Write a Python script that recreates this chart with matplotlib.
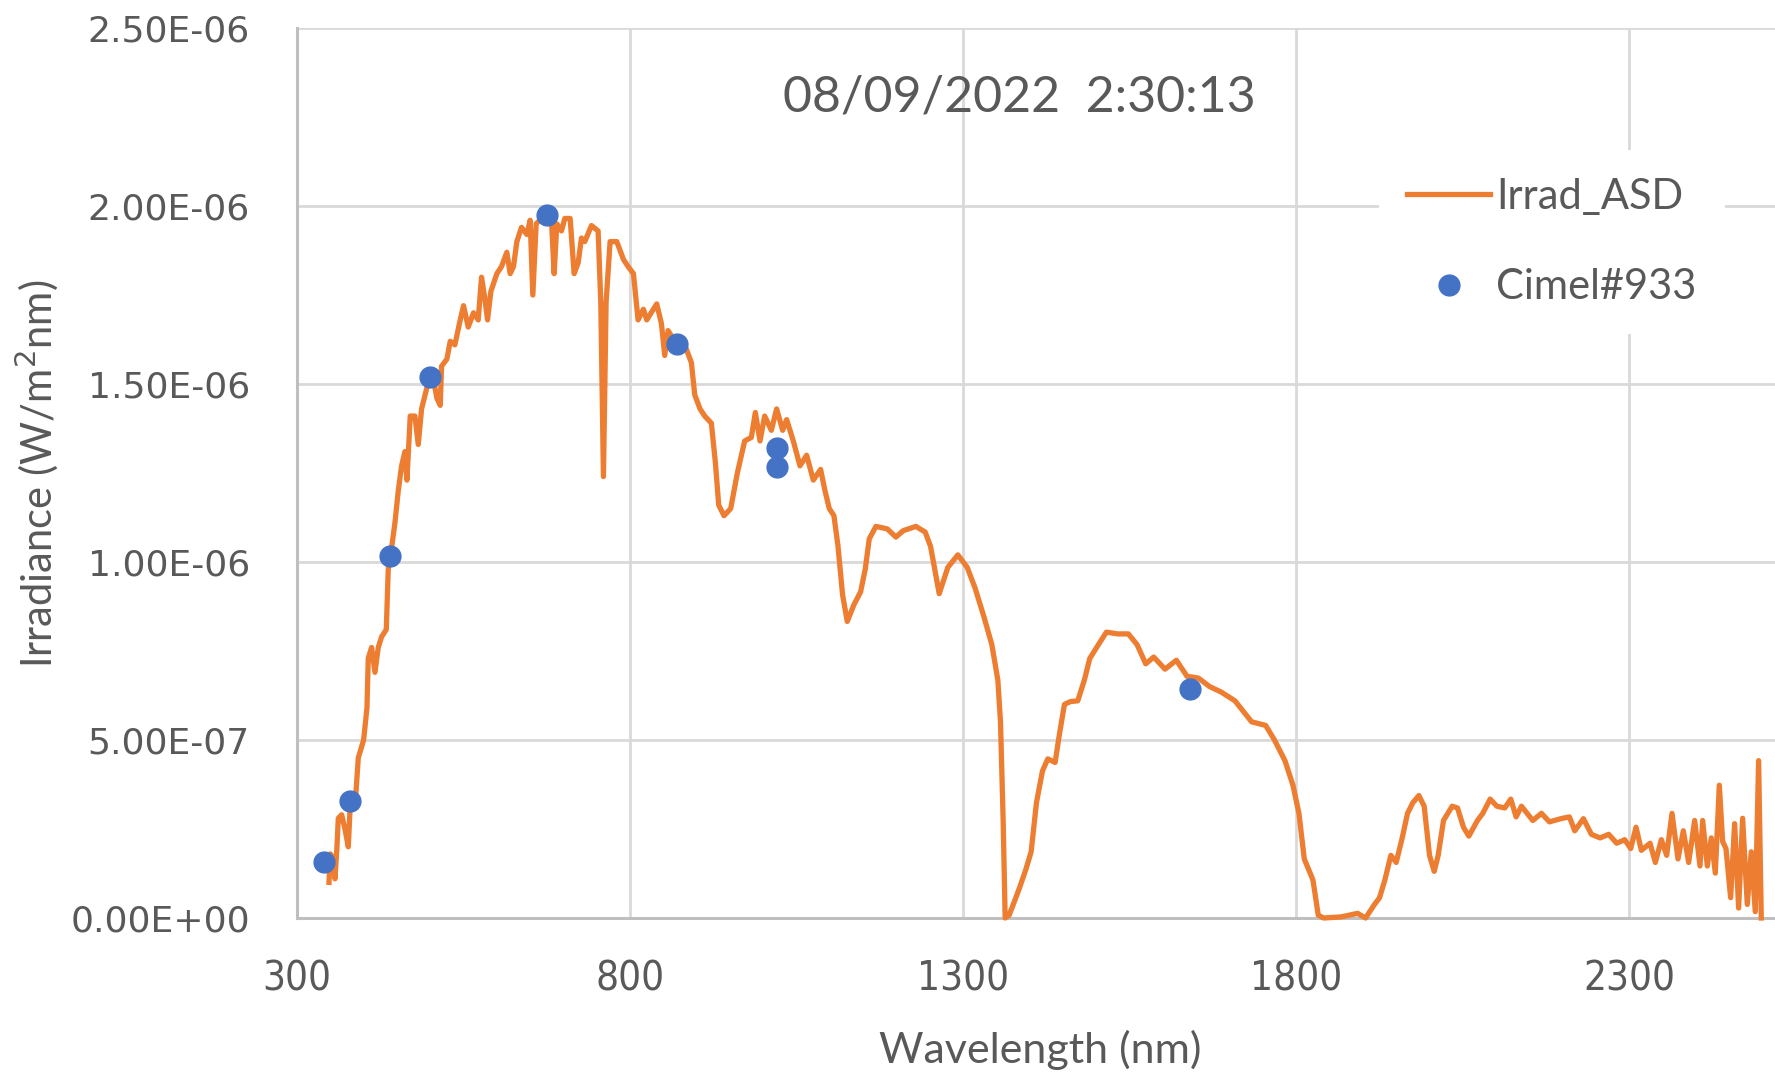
import numpy as np
import matplotlib
matplotlib.use("Agg")
import matplotlib.pyplot as plt
from matplotlib.ticker import FuncFormatter

# ASD spectrum, wavelength (nm) and irradiance (x1E-06 W/m2nm)
asd_wl = [348, 350, 354, 357, 360, 362, 367, 372, 377, 380, 387, 392, 400, 405, 407,
          412, 417, 422, 427, 434, 437, 442, 447, 452, 457, 462, 465, 470, 477, 482,
          487, 495, 505, 510, 515, 517, 525, 530, 537, 545, 550, 557, 565, 572, 577,
          582, 586, 591, 600, 607, 615, 620, 625, 630, 637, 645, 650, 654, 659, 675,
          682, 686, 690, 697, 702, 710, 716, 722, 727, 732, 742, 752, 756, 760, 764,
          770, 780, 790, 797, 805, 812, 820, 825, 840, 847, 852, 857, 867, 882, 892,
          897, 905, 912, 922, 928, 933, 941, 951, 961, 972, 982, 988, 995, 1002, 1012,
          1020, 1029, 1035, 1045, 1055, 1065, 1075, 1086, 1092, 1099, 1106, 1112, 1119,
          1126, 1136, 1146, 1153, 1159, 1169, 1186, 1199, 1210, 1229, 1243, 1251, 1264,
          1277, 1292, 1306, 1318, 1331, 1343, 1352, 1356, 1360, 1363, 1369, 1377, 1385,
          1394, 1402, 1410, 1419, 1427, 1438, 1444, 1452, 1461, 1472, 1482, 1490, 1503,
          1515, 1532, 1548, 1561, 1574, 1586, 1603, 1620, 1636, 1653, 1670, 1687, 1708,
          1733, 1754, 1767, 1783, 1795, 1804, 1812, 1825, 1833, 1841, 1867, 1892, 1904,
          1917, 1925, 1933, 1942, 1950, 1959, 1967, 1975, 1984, 1992, 2000, 2007, 2013,
          2021, 2034, 2042, 2051, 2059, 2072, 2080, 2091, 2101, 2113, 2122, 2130, 2138,
          2155, 2168, 2180, 2197, 2210, 2218, 2231, 2243, 2256, 2269, 2281, 2293, 2302,
          2310, 2318, 2331, 2339, 2348, 2356, 2364, 2373, 2381, 2389, 2398, 2406, 2410,
          2417, 2423, 2429, 2435, 2440, 2445, 2452, 2458, 2464, 2470, 2477, 2483, 2489,
          2494, 2498]
asd_irr = [0.10, 0.18, 0.17, 0.11, 0.20, 0.28, 0.29, 0.25, 0.20, 0.32, 0.31, 0.45, 0.50, 0.59, 0.73,
           0.76, 0.69, 0.76, 0.79, 0.81, 0.98, 1.04, 1.11, 1.20, 1.27, 1.31, 1.23, 1.41, 1.41, 1.33,
           1.43, 1.49, 1.51, 1.46, 1.44, 1.55, 1.57, 1.62, 1.61, 1.68, 1.72, 1.66, 1.70, 1.68, 1.80,
           1.74, 1.68, 1.76, 1.81, 1.83, 1.87, 1.81, 1.83, 1.90, 1.94, 1.92, 1.96, 1.75, 1.95, 1.98,
           1.96, 1.81, 1.95, 1.93, 1.965, 1.965, 1.81, 1.84, 1.91, 1.90, 1.945, 1.93, 1.73, 1.24, 1.73,
           1.90, 1.90, 1.85, 1.83, 1.81, 1.68, 1.71, 1.68, 1.725, 1.67, 1.58, 1.65, 1.62, 1.61, 1.56,
           1.47, 1.43, 1.41, 1.39, 1.28, 1.16, 1.13, 1.15, 1.25, 1.34, 1.35, 1.42, 1.34, 1.41, 1.37,
           1.43, 1.37, 1.40, 1.34, 1.27, 1.30, 1.23, 1.26, 1.205, 1.15, 1.13, 1.046, 0.907,
           0.833, 0.88, 0.916, 0.98, 1.065, 1.10, 1.093, 1.07, 1.088, 1.10, 1.084, 1.044, 0.911,
           0.985, 1.02, 0.985, 0.926, 0.847, 0.768, 0.669, 0.551, 0.274, 0.0, 0.008, 0.047, 0.087,
           0.136, 0.186, 0.324, 0.413, 0.447, 0.437, 0.511, 0.60, 0.608, 0.61, 0.669, 0.729, 0.768,
           0.803, 0.798, 0.798, 0.768, 0.714, 0.733, 0.699, 0.724, 0.679, 0.674, 0.65, 0.635, 0.61,
           0.551, 0.541, 0.501, 0.442, 0.373, 0.294, 0.166, 0.107, 0.008, 0.0, 0.003, 0.013, 0.0,
           0.037, 0.057, 0.107, 0.176, 0.156, 0.225, 0.294, 0.324, 0.344, 0.314, 0.176, 0.131, 0.176,
           0.274, 0.314, 0.309, 0.255, 0.23, 0.274, 0.294, 0.334, 0.314, 0.309, 0.334, 0.284, 0.314,
           0.274, 0.294, 0.27, 0.279, 0.284, 0.245, 0.279, 0.235, 0.225, 0.235, 0.21, 0.22, 0.195,
           0.255, 0.19, 0.21, 0.156, 0.22, 0.176, 0.294, 0.166, 0.245, 0.156, 0.274, 0.146, 0.274,
           0.146, 0.225, 0.126, 0.373, 0.215, 0.195, 0.057, 0.265, 0.028, 0.28, 0.038, 0.186, 0.018,
           0.442, 0.0]

# Cimel#933 photometer bands
cimel_wl = [340, 380, 440, 500, 675, 870, 1020, 1020, 1640]
cimel_irr = [0.156, 0.328, 1.018, 1.52, 1.975, 1.613, 1.32, 1.266, 0.643]

orange = "#ED7D31"
blue = "#4472C4"
grey_txt = "#595959"

fig = plt.figure(figsize=(17.75, 10.73), dpi=100)
ax = fig.add_axes([297 / 1775, 155 / 1073, 1478 / 1775, 890 / 1073])

ax.plot(asd_wl, np.array(asd_irr) * 1e-6, color=orange, lw=3.8,
        label="Irrad_ASD", zorder=3, clip_on=False, solid_joinstyle="round")
ax.plot(cimel_wl, np.array(cimel_irr) * 1e-6, "o", color=blue, ms=15,
        label="Cimel#933", zorder=4)

ax.set_xlim(300, 2518.6)
ax.set_ylim(0, 2.5e-6)
ax.set_xticks([300, 800, 1300, 1800, 2300])
ax.set_yticks(np.arange(0, 2.51e-6, 0.5e-6))
ax.yaxis.set_major_formatter(FuncFormatter(lambda v, p: f"{v:.2E}"))

ax.grid(True, color="#D9D9D9", lw=2)
ax.set_axisbelow(True)
for s in ["top", "right"]:
    ax.spines[s].set_visible(False)
for s in ["left", "bottom"]:
    ax.spines[s].set_color("#BFBFBF")
    ax.spines[s].set_linewidth(2.2)
ax.tick_params(length=0)
ax.tick_params(axis="y", pad=34, labelsize=26, labelcolor=grey_txt)
ax.tick_params(axis="x", pad=30, labelsize=29, labelcolor=grey_txt)
for t in ax.get_xticklabels():
    t.set_fontfamily("DejaVu Sans")
    t.set_fontstretch("condensed")

fig.text(1019 / 1775, 1 - 98 / 1073, "08/09/2022  2:30:13", ha="center", va="center",
         fontsize=36, color=grey_txt, family="Lato")
fig.text(1040 / 1775, 1 - 1050 / 1073, "Wavelength (nm)", ha="center", va="center",
         fontsize=31, color=grey_txt, family="Lato")
fig.text(37 / 1775, 1 - 474 / 1073, "Irradiance (W/m$^2$nm)", ha="center", va="center",
         rotation=90, fontsize=30, color=grey_txt, family="Lato")

leg = ax.legend(loc="upper left", bbox_to_anchor=(1379 / 1775, 1 - 150 / 1073),
                bbox_transform=fig.transFigure, frameon=True, fancybox=False,
                facecolor="white", edgecolor="none", framealpha=1,
                prop={"family": "Lato", "size": 30}, handlelength=2.0,
                handletextpad=0.15, labelspacing=1.26, borderpad=0.67,
                borderaxespad=0)
for t in leg.get_texts():
    t.set_color(grey_txt)

fig.savefig("out.png", dpi=100, facecolor="white")
